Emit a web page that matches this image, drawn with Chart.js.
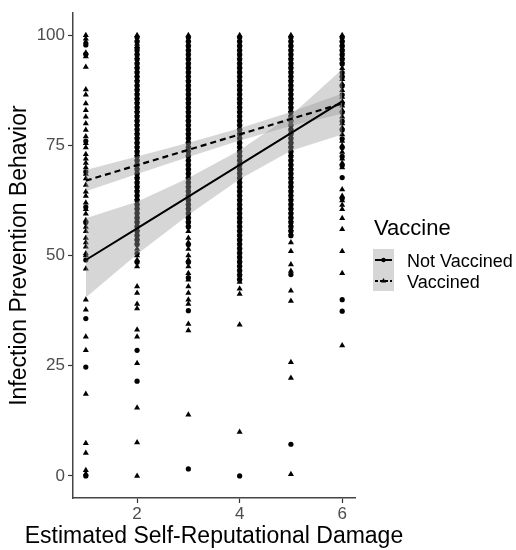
<!DOCTYPE html>
<html>
<head>
<meta charset="utf-8">
<script src="https://cdn.jsdelivr.net/npm/chart.js@4.4.1/dist/chart.umd.min.js"></script>
<style>
  body { margin: 0; background: #fff; }
  #wrap { position: relative; width: 516px; height: 550px; font-family: "Liberation Sans", Arial, sans-serif; }
  #legend-title { position: absolute; left: 374px; top: 217px; font-size: 22px; line-height: 22px; color: #000; }
  .legend-item { position: absolute; left: 407px; font-size: 18px; line-height: 18px; color: #000; white-space: nowrap; }
  #legend-keys { position: absolute; left: 373px; top: 249px; }
  #x-title { position: absolute; left: 0; width: 428px; top: 524px; text-align: center; font-size: 23px; line-height: 23px; color: #000; white-space: nowrap; }
</style>
</head>
<body>
<div id="wrap">
  <canvas id="scatter" width="516" height="550"></canvas>
  <div id="x-title">Estimated Self-Reputational Damage</div>
  <div id="legend-title">Vaccine</div>
  <svg id="legend-keys" width="21" height="42">
    <rect x="0" y="0" width="21" height="42" fill="#d6d6d6"/>
    <line x1="2" y1="11" x2="19" y2="11" stroke="#000" stroke-width="2"/>
    <circle cx="10.5" cy="11" r="2.2" fill="#000"/>
    <line x1="2" y1="32" x2="19" y2="32" stroke="#000" stroke-width="2" stroke-dasharray="3,2"/>
    <polygon points="10.5,29 13,33.5 8,33.5" fill="#000"/>
  </svg>
  <div class="legend-item" style="top:252px">Not Vaccined</div>
  <div class="legend-item" style="top:273px">Vaccined</div>
</div>
<script>
const xLevels = [1, 2, 3, 4, 5, 6]
const xTicks = [2, 4, 6]
const yTicks = [0, 25, 50, 75, 100]

// responses at each damage level
const vaccinedY = [
  [100, 99.2, 98.5, 96, 95.2, 92.8, 87.7, 86.5, 84.5, 83, 81.5, 80, 78.5, 77, 75.5, 74.5, 73, 72, 71, 70, 68.5, 67.5, 66, 64.5, 63.5, 62, 60.5, 59.5, 58, 56.5, 55.5, 54, 53, 52, 50.5, 50, 47, 40, 37.7, 31.6, 28.5, 18.6, 7.4, 5.2, 1.3, 0.5],
  [100, 99, 98, 97.5, 96, 95, 94, 93, 92, 91, 90, 89, 88, 87, 86, 85, 84, 83, 82, 81, 80, 79, 78, 77, 76, 75, 74, 73, 72, 71, 70, 69, 68, 67, 66, 65, 64, 63, 62, 61, 60, 59, 58, 57, 56, 55, 54, 53, 51.5, 50, 49, 47.5, 43, 41.5, 39, 38, 33.2, 31.6, 25.6, 15.5, 7.6, 0],
  [100, 99, 98, 97, 96, 95, 94, 93, 92, 91, 90, 89, 88, 87, 86, 85, 84, 83, 82, 81, 80, 79, 78, 77, 76, 75, 74, 73, 72, 71, 70, 69, 68, 67, 66, 65, 64, 63, 62, 61, 60, 59, 58, 57, 55.5, 54, 53, 51.5, 50, 49, 47.5, 46, 44.5, 43, 41.5, 40, 39, 34.5, 33, 13.9],
  [100, 99, 98, 97, 96, 95, 94, 93, 92, 91, 90, 89, 88, 87, 86, 85, 84, 83, 82, 81, 80, 79, 78, 77, 76, 75, 74, 73, 72, 71, 70, 69, 68, 67, 66, 65, 64, 63, 62, 61, 60, 59, 58, 57, 56, 55, 54, 53, 52, 51, 50, 49, 48, 47, 46, 45, 44, 42.5, 41.3, 34.3, 10],
  [100, 99, 98, 97, 96, 95, 94, 93, 92, 91, 90, 89, 88, 87, 86, 85, 84, 83, 82, 81, 80, 79, 78, 77, 76, 75, 74, 73, 72, 71, 70, 69, 68, 67, 66, 65, 64, 63, 62, 61, 60, 59, 58, 57, 56, 55, 53, 51, 48, 46.5, 42, 39.7, 25.8, 22.2, 0.4],
  [100, 99, 98, 97, 96, 95, 94, 92.5, 91, 90, 89, 87.5, 86, 85, 84, 83, 81.5, 80, 79, 77.5, 76, 75, 73.5, 72, 71, 70, 65, 63.5, 62.5, 61.5, 60.5, 58.5, 56, 51, 46, 29.6]
]
const notVaccinedY = [
  [97.8, 95.7, 76, 69, 61, 57.5, 49, 35.7, 24.7, 0],
  [99.5, 98.5, 97, 96.5, 95.5, 94.5, 93.5, 92.5, 91.5, 90.5, 89.5, 88.5, 87.5, 86.5, 85.5, 84.5, 83.5, 82.5, 81.5, 80.5, 79.5, 78.5, 77.5, 76.5, 75.5, 74.5, 73.5, 72.5, 71.5, 70.5, 69.5, 68.5, 67.5, 66.5, 65.5, 64.5, 63.5, 62.5, 61.5, 60.5, 59.5, 58.5, 57.5, 56.5, 55.5, 54.5, 53.5, 52.5, 50.5, 48.5, 28.5, 21.5],
  [99.5, 98.5, 97.5, 96.5, 95.5, 94.5, 93.5, 92.5, 91.5, 90.5, 89.5, 88.5, 87.5, 86.5, 85.5, 84.5, 83.5, 82.5, 81.5, 80.5, 79.5, 78.5, 77.5, 76.5, 75.5, 74.5, 73.5, 72.5, 71.5, 70.5, 69.5, 68.5, 67.5, 66.5, 65.5, 64.5, 63.5, 62.5, 61.5, 60.5, 59.5, 58.5, 57.5, 56.5, 52.5, 48.5, 45, 37.5, 1.6],
  [99.5, 98.5, 97.5, 96.5, 95.5, 94.5, 93.5, 92.5, 91.5, 90.5, 89.5, 88.5, 87.5, 86.5, 85.5, 84.5, 83.5, 82.5, 81.5, 80.5, 79.5, 78.5, 77.5, 76.5, 75.5, 74.5, 73.5, 72.5, 71.5, 70.5, 69.5, 68.5, 67.5, 66.5, 65.5, 64.5, 63.5, 62.5, 61.5, 60.5, 59.5, 58.5, 57.5, 56.5, 55.5, 54.5, 53.5, 52.5, 51.5, 50.5, 49.5, 48.5, 47.5, 46.5, 45.5, 44.5, 0],
  [99.5, 98.5, 97.5, 96.5, 95.5, 94.5, 93.5, 92.5, 91.5, 90.5, 89.5, 88.5, 87.5, 86.5, 85.5, 84.5, 83.5, 82.5, 81.5, 80.5, 79.5, 78.5, 77.5, 76.5, 75.5, 74.5, 73.5, 72.5, 71.5, 70.5, 69.5, 68.5, 67.5, 66.5, 65.5, 64.5, 63.5, 62.5, 61.5, 60.5, 59.5, 58.5, 57.5, 56.5, 55.5, 54.5, 45.7, 7.2],
  [99.5, 98.5, 97.5, 96.5, 95.5, 94.5, 93.5, 91.5, 90.5, 88.5, 86.5, 84.5, 82.5, 80.5, 78.5, 76.5, 74.5, 72.5, 70.5, 67.7, 63, 40, 37.4]
]

// fitted lines and their confidence bands
const notVaccFit = [49, 56.2, 63.4, 70.6, 77.8, 85]
const notVaccLow = [40.5, 50.3, 59.2, 67.3, 73.8, 77.5]
const notVaccHigh = [58.5, 62.2, 67.6, 73.9, 81.8, 92.3]
const vaccFit = [67, 70.5, 74, 77.5, 81, 84.5]
const vaccLow = [64.6, 68.5, 72.4, 76.1, 79.4, 82.2]
const vaccHigh = [69.4, 72.5, 75.6, 78.9, 82.6, 86.8]

const FONT = '"Liberation Sans", Arial, sans-serif'

function toPoints(groups){
  const pts = []
  groups.forEach((vals, i) => {
    vals.forEach(v => pts.push({x: xLevels[i], y: v}))
  })
  return pts
}
function toLine(vals){
  return vals.map((v, i) => ({x: xLevels[i], y: v}))
}

const bandFill = 'rgba(153,153,153,0.4)'

new Chart(document.getElementById('scatter'), {
  type: 'scatter',
  data: {
    datasets: [
      {
        label: 'Vaccined',
        data: toPoints(vaccinedY),
        pointStyle: 'triangle',
        pointRadius: 3.5,
        pointBorderWidth: 0,
        backgroundColor: '#000',
        order: 5
      },
      {
        label: 'Not Vaccined',
        data: toPoints(notVaccinedY),
        pointStyle: 'circle',
        pointRadius: 2.6,
        pointBorderWidth: 0,
        backgroundColor: '#000',
        order: 5
      },
      {
        type: 'line',
        label: 'nv high',
        data: toLine(notVaccHigh),
        borderWidth: 0,
        pointRadius: 0,
        fill: '+1',
        backgroundColor: bandFill,
        order: 3
      },
      {
        type: 'line',
        label: 'nv low',
        data: toLine(notVaccLow),
        borderWidth: 0,
        pointRadius: 0,
        fill: false,
        order: 3
      },
      {
        type: 'line',
        label: 'v high',
        data: toLine(vaccHigh),
        borderWidth: 0,
        pointRadius: 0,
        fill: '+1',
        backgroundColor: bandFill,
        order: 3
      },
      {
        type: 'line',
        label: 'v low',
        data: toLine(vaccLow),
        borderWidth: 0,
        pointRadius: 0,
        fill: false,
        order: 3
      },
      {
        type: 'line',
        label: 'Not Vaccined fit',
        data: toLine(notVaccFit),
        borderColor: '#000',
        borderWidth: 2,
        pointRadius: 0,
        fill: false,
        order: 1
      },
      {
        type: 'line',
        label: 'Vaccined fit',
        data: toLine(vaccFit),
        borderColor: '#000',
        borderWidth: 2.2,
        borderDash: [6, 4],
        pointRadius: 0,
        fill: false,
        order: 1
      }
    ]
  },
  options: {
    responsive: false,
    animation: false,
    devicePixelRatio: 1,
    layout: { padding: { left: 0, top: 8, right: 161, bottom: 0 } },
    plugins: {
      legend: { display: false },
      tooltip: { enabled: false }
    },
    scales: {
      x: {
        type: 'linear',
        min: 0.75,
        max: 6.25,
        afterBuildTicks: axis => { axis.ticks = xTicks.map(v => ({value: v})) },
        afterFit: scale => { scale.height = 52 },
        grid: { display: true, drawOnChartArea: false, tickLength: 5, color: '#333', tickWidth: 1.2 },
        border: { display: true, color: '#444', width: 1.5 },
        ticks: { color: '#4d4d4d', font: { family: FONT, size: 17 }, padding: 1, maxRotation: 0 },
        title: { display: false }
      },
      y: {
        type: 'linear',
        min: -5,
        max: 105,
        afterBuildTicks: axis => { axis.ticks = yTicks.map(v => ({value: v})) },
        afterFit: scale => { scale.width = 73 },
        grid: { display: true, drawOnChartArea: false, tickLength: 5, color: '#333', tickWidth: 1.2 },
        border: { display: true, color: '#444', width: 1.5 },
        ticks: { color: '#4d4d4d', font: { family: FONT, size: 17 }, padding: 3 },
        title: { display: true, text: 'Infection Prevention Behavior', color: '#000', font: { family: FONT, size: 23 }, padding: { top: 6, bottom: 0 } }
      }
    }
  }
})
</script>
</body>
</html>
